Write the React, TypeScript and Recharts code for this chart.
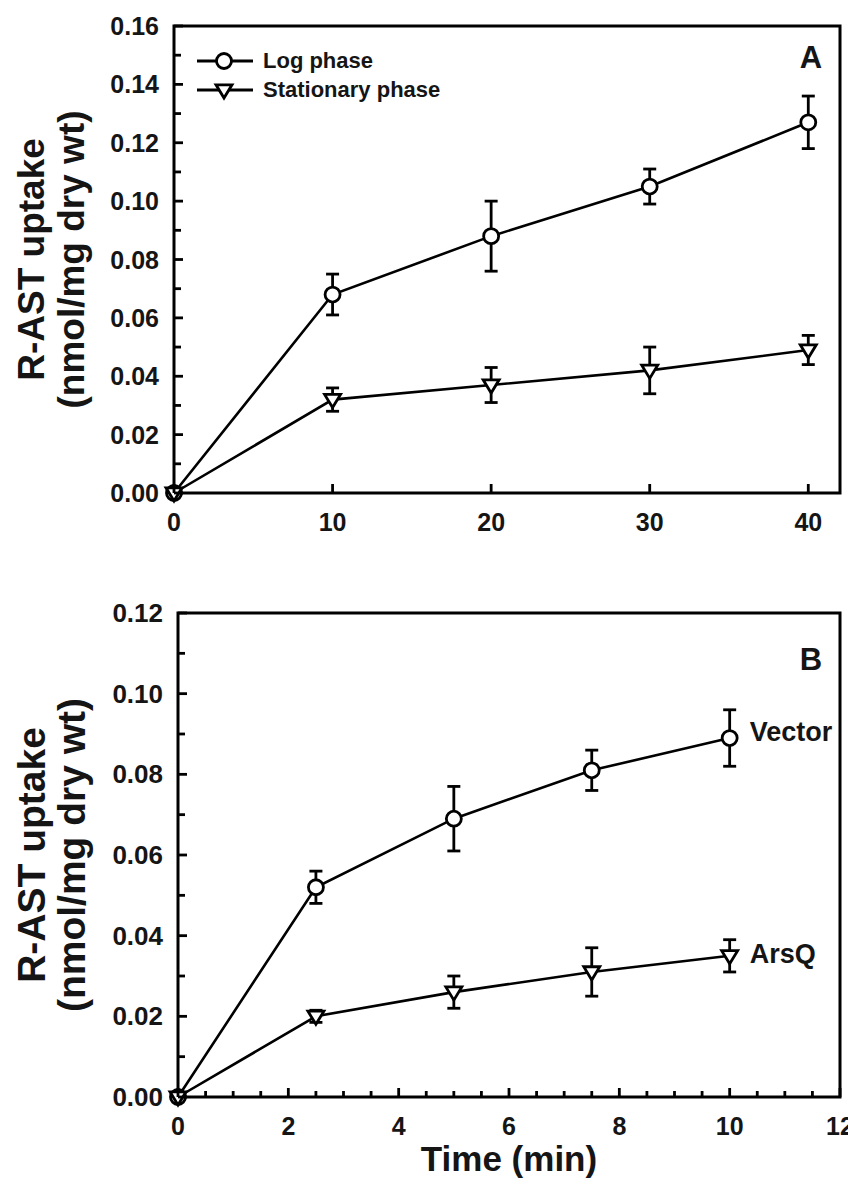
import React from "react";
import {
  LineChart,
  Line,
  XAxis,
  YAxis,
  ErrorBar,
  ReferenceArea,
  ReferenceDot,
  Legend,
} from "recharts";

// ---- panel A: growth phase ----
const timeA = [0, 10, 20, 30, 40];
const logPhase = [0, 0.068, 0.088, 0.105, 0.127];
const logPhaseErr = [0, 0.007, 0.012, 0.006, 0.009];
const statPhase = [0, 0.032, 0.037, 0.042, 0.049];
const statPhaseErr = [0, 0.004, 0.006, 0.008, 0.005];

const xTicksA = [0, 10, 20, 30, 40];
const xLabelsA = [0, 10, 20, 30, 40];
const yTicksA = [0, 0.01, 0.02, 0.03, 0.04, 0.05, 0.06, 0.07, 0.08, 0.09, 0.1, 0.11, 0.12, 0.13, 0.14, 0.15, 0.16];
const yLabelsA = [0, 0.02, 0.04, 0.06, 0.08, 0.1, 0.12, 0.14, 0.16];

// ---- panel B: vector vs ArsQ ----
const timeB = [0, 2.5, 5, 7.5, 10];
const vector = [0, 0.052, 0.069, 0.081, 0.089];
const vectorErr = [0, 0.004, 0.008, 0.005, 0.007];
const arsQ = [0, 0.02, 0.026, 0.031, 0.035];
const arsQErr = [0, 0.0015, 0.004, 0.006, 0.004];

const xTicksB = [0, 0.5, 1, 1.5, 2, 2.5, 3, 3.5, 4, 4.5, 5, 5.5, 6, 6.5, 7, 7.5, 8, 8.5, 9, 9.5, 10, 10.5, 11, 11.5, 12];
const xLabelsB = [0, 2, 4, 6, 8, 10, 12];
const yTicksB = [0, 0.01, 0.02, 0.03, 0.04, 0.05, 0.06, 0.07, 0.08, 0.09, 0.1, 0.11, 0.12];
const yLabelsB = [0, 0.02, 0.04, 0.06, 0.08, 0.1, 0.12];

const yTitleLines = ["R-AST uptake", "(nmol/mg dry wt)"];
const xTitleB = "Time (min)";
const legendA = [
  { name: "Log phase", shape: "circle" },
  { name: "Stationary phase", shape: "triangle" },
];

const dataA = timeA.map((t, i) => ({
  t,
  log: logPhase[i],
  logErr: logPhaseErr[i],
  stat: statPhase[i],
  statErr: statPhaseErr[i],
}));

const dataB = timeB.map((t, i) => ({
  t,
  vector: vector[i],
  vectorErr: vectorErr[i],
  arsQ: arsQ[i],
  arsQErr: arsQErr[i],
}));

const FONT = "'Liberation Sans', Arial, Helvetica, sans-serif";
const INK = "#000";
const TEXT = "#151515";

const isIn = (list: number[], v: number) => list.some((m) => Math.abs(m - v) < 1e-9);

function circleMark(cx: number, cy: number, key?: any) {
  return <circle key={key} cx={cx} cy={cy} r={7.5} fill="#fff" stroke={INK} strokeWidth={2.8} />;
}

function triangleMark(cx: number, cy: number, key?: any) {
  const s = 8;
  const pts = `${cx - s},${cy - s * 0.65} ${cx + s},${cy - s * 0.65} ${cx},${cy + s}`;
  return <polygon key={key} points={pts} fill="#fff" stroke={INK} strokeWidth={2.8} />;
}

const CircleDot = (p: any) => (p.cx == null ? null : circleMark(p.cx, p.cy, p.key ?? p.index));
const TriangleDot = (p: any) => (p.cx == null ? null : triangleMark(p.cx, p.cy, p.key ?? p.index));

function makeYTick(labels: number[], size: number) {
  return (p: any) => {
    const { x, y, payload } = p;
    const major = isIn(labels, payload.value);
    return (
      <g>
        <line x1={x} x2={x + (major ? 9 : 7)} y1={y} y2={y} stroke={INK} strokeWidth={2.8} />
        {major && (
          <text x={x - 15} y={y} textAnchor="end" dominantBaseline="central" fontFamily={FONT} fontWeight="bold" fontSize={size} fill={TEXT}>
            {payload.value.toFixed(2)}
          </text>
        )}
      </g>
    );
  };
}

function makeXTick(labels: number[], minorLen: number, size: number) {
  return (p: any) => {
    const { x, y, payload } = p;
    const major = isIn(labels, payload.value);
    return (
      <g>
        <line x1={x} x2={x} y1={y} y2={y - (major ? 9 : minorLen)} stroke={INK} strokeWidth={2.8} />
        {major && (
          <text x={x} y={y + 29} textAnchor="middle" dominantBaseline="central" fontFamily={FONT} fontWeight="bold" fontSize={size} fill={TEXT}>
            {payload.value}
          </text>
        )}
      </g>
    );
  };
}

const YTitle = ({ viewBox, size }: any) => {
  if (!viewBox) return null;
  const cy = viewBox.y + viewBox.height / 2;
  return (
    <g>
      {yTitleLines.map((line, i) => (
        <text
          key={line}
          transform={`translate(${viewBox.x + 31 + i * 40}, ${cy}) rotate(-90)`}
          textAnchor="middle"
          dominantBaseline="central"
          fontFamily={FONT}
          fontWeight="bold"
          fontSize={size}
          fill={TEXT}
        >
          {line}
        </text>
      ))}
    </g>
  );
};

const XTitle = ({ viewBox }: any) => {
  if (!viewBox) return null;
  return (
    <text x={viewBox.x + viewBox.width / 2} y={viewBox.y + 61} textAnchor="middle" dominantBaseline="central" fontFamily={FONT} fontWeight="bold" fontSize={35} fill={TEXT}>
      {xTitleB}
    </text>
  );
};

const PanelLetter = ({ viewBox, text, dy }: any) => {
  if (!viewBox) return null;
  return (
    <text x={viewBox.x + viewBox.width - 29} y={viewBox.y + dy} textAnchor="middle" dominantBaseline="central" fontFamily={FONT} fontWeight="bold" fontSize={31} fill={TEXT}>
      {text}
    </text>
  );
};

const SideLabel = ({ viewBox, text, dy }: any) => {
  if (!viewBox) return null;
  return (
    <text x={viewBox.x + 20} y={viewBox.y + dy} textAnchor="start" dominantBaseline="central" fontFamily={FONT} fontWeight="bold" fontSize={27} fill={TEXT}>
      {text}
    </text>
  );
};

const LegendBox = () => (
  <div>
    {legendA.map((item) => (
      <div key={item.name} style={{ display: "flex", alignItems: "center", height: 29 }}>
        <svg width={56} height={22}>
          <line x1={0} x2={56} y1={11} y2={11} stroke={INK} strokeWidth={3} />
          {item.shape === "circle" ? circleMark(27, 11) : triangleMark(27, 11)}
        </svg>
        <span style={{ marginLeft: 10, fontFamily: FONT, fontWeight: "bold", fontSize: 22, color: TEXT, lineHeight: "22px" }}>{item.name}</span>
      </div>
    ))}
  </div>
);

function PanelA() {
  return (
    <LineChart width={856} height={568} data={dataA} margin={{ top: 26, right: 16, bottom: 0, left: 0 }}>
      <XAxis
        dataKey="t"
        type="number"
        domain={[0, 42]}
        ticks={xTicksA}
        interval={0}
        axisLine={false}
        tickLine={false}
        tickSize={0}
        tickMargin={0}
        height={75}
        tick={makeXTick(xLabelsA, 9, 25)}
      />
      <YAxis
        type="number"
        domain={[0, 0.16]}
        ticks={yTicksA}
        interval={0}
        axisLine={false}
        tickLine={false}
        tickSize={0}
        tickMargin={0}
        width={174}
        tick={makeYTick(yLabelsA, 25)}
        label={<YTitle size={37} />}
      />
      <ReferenceArea
        x1={0}
        x2={42}
        y1={0}
        y2={0.16}
        fill="none"
        stroke={INK}
        strokeWidth={3}
        ifOverflow="visible"
        label={<PanelLetter text="A" dy={31} />}
      />
      <Legend
        layout="vertical"
        align="center"
        verticalAlign="middle"
        wrapperStyle={{ left: 197, top: 46, width: 300, height: 60 }}
        content={<LegendBox />}
      />
      <Line dataKey="log" stroke={INK} strokeWidth={2.6} dot={CircleDot} isAnimationActive={false}>
        <ErrorBar dataKey="logErr" width={6.5} stroke={INK} strokeWidth={2.8} direction="y" />
      </Line>
      <Line dataKey="stat" stroke={INK} strokeWidth={2.6} dot={TriangleDot} isAnimationActive={false}>
        <ErrorBar dataKey="statErr" width={6.5} stroke={INK} strokeWidth={2.8} direction="y" />
      </Line>
    </LineChart>
  );
}

function PanelB() {
  const last = dataB[dataB.length - 1];
  return (
    <LineChart width={856} height={614} data={dataB} margin={{ top: 45, right: 16, bottom: 0, left: 0 }}>
      <XAxis
        dataKey="t"
        type="number"
        domain={[0, 12]}
        ticks={xTicksB}
        interval={0}
        axisLine={false}
        tickLine={false}
        tickSize={0}
        tickMargin={0}
        height={85}
        tick={makeXTick(xLabelsB, 6, 25)}
        label={<XTitle />}
      />
      <YAxis
        type="number"
        domain={[0, 0.12]}
        ticks={yTicksB}
        interval={0}
        axisLine={false}
        tickLine={false}
        tickSize={0}
        tickMargin={0}
        width={178}
        tick={makeYTick(yLabelsB, 26)}
        label={<YTitle size={39} />}
      />
      <ReferenceArea
        x1={0}
        x2={12}
        y1={0}
        y2={0.12}
        fill="none"
        stroke={INK}
        strokeWidth={3}
        ifOverflow="visible"
        label={<PanelLetter text="B" dy={46} />}
      />
      <Line dataKey="vector" stroke={INK} strokeWidth={2.6} dot={CircleDot} isAnimationActive={false}>
        <ErrorBar dataKey="vectorErr" width={6.5} stroke={INK} strokeWidth={2.8} direction="y" />
      </Line>
      <Line dataKey="arsQ" stroke={INK} strokeWidth={2.6} dot={TriangleDot} isAnimationActive={false}>
        <ErrorBar dataKey="arsQErr" width={6.5} stroke={INK} strokeWidth={2.8} direction="y" />
      </Line>
      <ReferenceDot x={last.t} y={last.vector} r={0} fill="none" stroke="none" label={<SideLabel text="Vector" dy={-6} />} />
      <ReferenceDot x={last.t} y={last.arsQ} r={0} fill="none" stroke="none" label={<SideLabel text="ArsQ" dy={-2} />} />
    </LineChart>
  );
}

export default function App() {
  return (
    <div style={{ width: 856, height: 1182, margin: "-8px -8px 0 -8px", background: "#fff", overflow: "hidden" }}>
      <PanelA />
      <PanelB />
    </div>
  );
}
